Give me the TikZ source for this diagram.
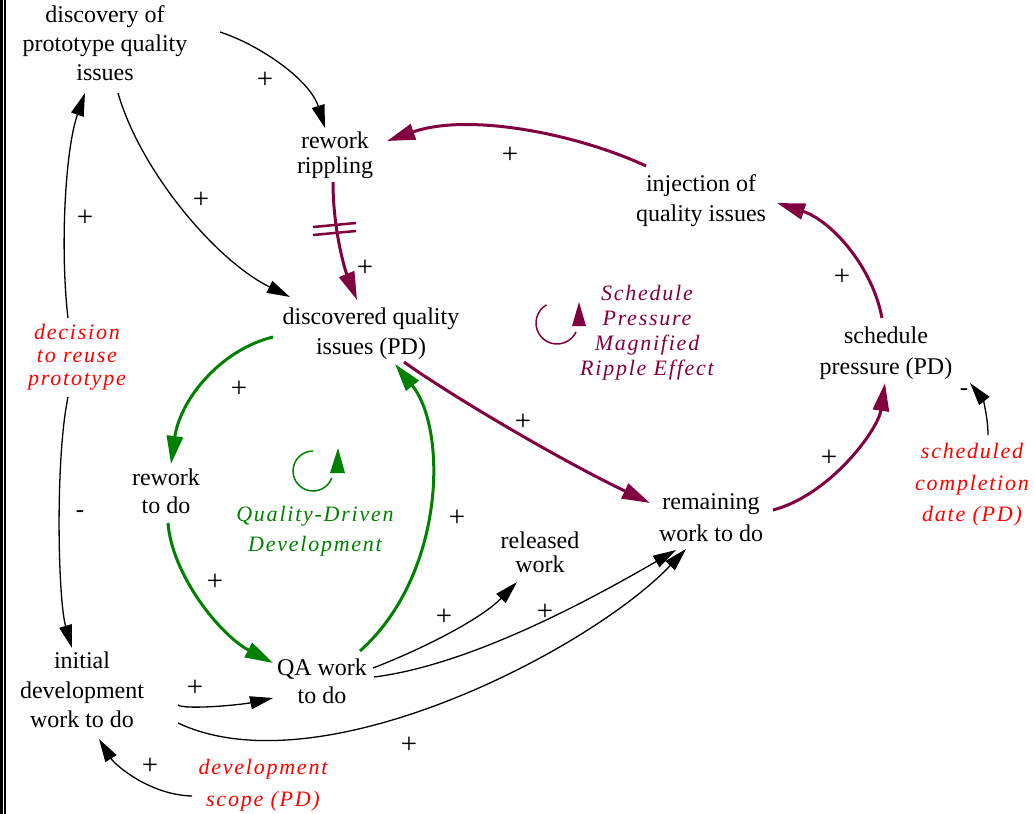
\documentclass[tikz,border=0pt]{standalone}
\usepackage{fontspec}
\setmainfont{Liberation Serif}
\newfontfamily\itf{Liberation Serif}[LetterSpace=8]
\usetikzlibrary{arrows.meta}
\definecolor{purp}{RGB}{128,0,64}
\definecolor{grn}{RGB}{0,128,0}
\definecolor{rd}{RGB}{255,0,0}
\begin{document}
\begin{tikzpicture}[x=1pt,y=-1pt,
  var/.style={align=center,inner sep=0pt,text=black,font=\fontsize{24}{#1}\selectfont},
  var/.default=29,
  lab/.style={align=center,inner sep=0pt,font=\itf\itshape\fontsize{22}{#1}\selectfont},
  lab/.default=25,
  sgn/.style={inner sep=0pt,font=\fontsize{29}{29}\selectfont},
  neg/.style={inner sep=0pt,font=\fontsize{25}{25}\selectfont},
  blk/.style={draw=black,line width=1.3pt,-{Triangle[length=23pt,width=13pt]}},
  pur/.style={draw=purp,line width=3pt,-{Triangle[length=28pt,width=16pt]}},
  grnarr/.style={draw=grn,line width=3pt,-{Triangle[length=28pt,width=16pt]}}
]
\useasboundingbox (0,0) rectangle (1034,814);
% left border
\fill[black] (0,0) rectangle (3,814);
\fill[black] (4.3,0) rectangle (5.7,814);

% variables
\node[var] (disc) at (105,46) {\strut discovery of\\\strut prototype quality\\\strut issues};
\node[var=25] (rr) at (335,155.5) {\strut rework\\\strut rippling};
\node[var=30] (inj) at (701,200) {\strut injection of\\\strut quality issues};
\node[var=30] (dq) at (371,333) {\strut discovered quality\\\strut issues (PD)};
\node[var=31] (sp) at (886,352.5) {\strut schedule\\\strut pressure (PD)};
\node[var=28] (rtd) at (166,494) {\strut rework\\\strut to do};
\node[var=21] (rel) at (540,555.5) {\strut released\\\strut work};
\node[var=32] (rem) at (711,519) {\strut remaining\\\strut work to do};
\node[var=29.5] (init) at (82,692.5) {\strut initial\\\strut development\\\strut work to do};
\node[var=28] (qa) at (322,684) {\strut QA work\\\strut to do};

% exogenous (red italic)
\node[lab=23,text=rd] (dec) at (77,358) {\strut decision\\\strut to reuse\\\strut prototype};
\node[lab=31.5,text=rd] (scd) at (972,484) {\strut scheduled\\\strut completion\\\strut date (PD)};
\node[lab=32,text=rd] (ds) at (263,784) {\strut development\\\strut scope (PD)};

% loop names
\node[lab=25,text=purp] (spl) at (647,332.5) {\strut Schedule\\\strut Pressure\\\strut Magnified\\\strut Ripple Effect};
\node[lab=30,text=grn] (qdl) at (315,530) {\strut Quality-Driven\\\strut Development};

% loop symbols
\draw[purp,line width=1.5pt] (557,323) ++(-120:21) arc[start angle=-120,end angle=-335,radius=21];
\fill[purp] (572,326) -- (586,326) -- (579,302) -- cycle;
\draw[grn,line width=1.5pt] (313,471) ++(-90:20) arc[start angle=-90,end angle=-340,radius=20];
\fill[grn] (330,473) -- (345,473) -- (338,448) -- cycle;

% connectors
\draw[blk] ([shift={(115,-14)}]disc.center) .. controls (260,45) and (310,80) .. ([shift={(-10,-27.5)}]rr.center);
\draw[blk] ([shift={(13,47)}]disc.center) .. controls (140,170) and (215,260) .. ([shift={(-81,-36)}]dq.center);
\draw[blk] ([shift={(-9,-40)}]dec.center) .. controls (60,250) and (65,150) .. ([shift={(-20,47)}]disc.center);
\draw[blk] ([shift={(-9,39)}]dec.center) .. controls (55,460) and (58,600) .. ([shift={(-10,-44.5)}]init.center);
\draw[pur] ([shift={(-2,26.5)}]rr.center) .. controls (333,230) and (345,270) .. ([shift={(-14,-33)}]dq.center);
\draw[pur] ([shift={(-55,-34)}]inj.center) .. controls (580,135) and (470,112) .. ([shift={(52,-14.5)}]rr.center);
\draw[pur] ([shift={(-4,-34.5)}]sp.center) .. controls (872,265) and (830,220) .. ([shift={(76,3)}]inj.center);
\draw[pur] ([shift={(62,-9)}]rem.center) .. controls (830,495) and (878,430) .. ([shift={(-1,30.5)}]sp.center);
\draw[pur] ([shift={(33,29)}]dq.center) .. controls (450,395) and (560,460) .. ([shift={(-61,-16)}]rem.center);
\draw[grnarr] ([shift={(-98,4)}]dq.center) .. controls (220,350) and (180,400) .. ([shift={(5,-30)}]rtd.center);
\draw[grnarr] ([shift={(2,29)}]rtd.center) .. controls (172,575) and (220,635) .. ([shift={(-49,-21)}]qa.center);
\draw[grnarr] ([shift={(38,-33)}]qa.center) .. controls (445,575) and (448,430) .. ([shift={(24,31)}]dq.center);
\draw[blk] ([shift={(16,-49)}]scd.center) .. controls (988,415) and (982,398) .. ([shift={(84,30.5)}]sp.center);
\draw[blk] ([shift={(-71,12)}]ds.center) .. controls (150,795) and (115,765) .. ([shift={(17,46.5)}]init.center);
\draw[blk] ([shift={(96,12.5)}]init.center) .. controls (185,710) and (240,705) .. ([shift={(-49,14)}]qa.center);
\draw[blk] ([shift={(96,30.5)}]init.center) .. controls (320,790) and (590,650) .. ([shift={(-25,30)}]rem.center);
\draw[blk] ([shift={(51,-16)}]qa.center) .. controls (420,650) and (480,620) .. ([shift={(-23,26.5)}]rel.center);
\draw[blk] ([shift={(52,-7)}]qa.center) .. controls (470,665) and (590,600) .. ([shift={(-35,31)}]rem.center);

% delay mark
\draw[purp,line width=2.5pt] (313,227) -- (356,223);
\draw[purp,line width=2.5pt] (313,235) -- (356,231);

% polarity signs
\node[sgn] (s1) at (265,80) {+};
\node[sgn] (s2) at (201,200) {+};
\node[sgn] (s3) at (85,218) {+};
\node[neg] (s4) at (80,514) {-};
\node[sgn] (s5) at (365,268) {+};
\node[sgn] (s6) at (510,155) {+};
\node[sgn] (s7) at (842,277) {+};
\node[sgn] (s8) at (829,458) {+};
\node[sgn] (s9) at (523,422) {+};
\node[sgn] (s10) at (239,389) {+};
\node[sgn] (s11) at (215,582) {+};
\node[sgn] (s12) at (457,518) {+};
\node[neg] (s13) at (964,392) {-};
\node[sgn] (s14) at (150,766) {+};
\node[sgn] (s15) at (195,688) {+};
\node[sgn] (s16) at (409,745) {+};
\node[sgn] (s17) at (444,617) {+};
\node[sgn] (s18) at (545,612) {+};
\end{tikzpicture}
\end{document}
